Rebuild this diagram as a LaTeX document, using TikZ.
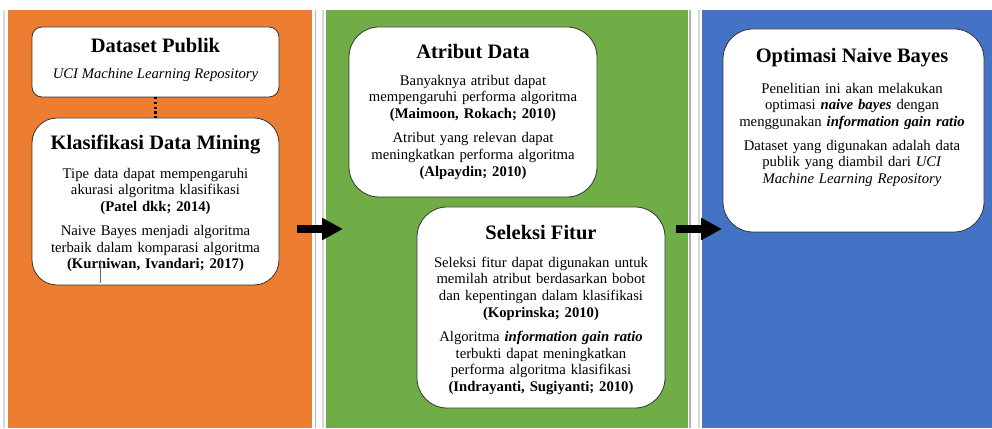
\documentclass[tikz,border=0pt]{standalone}
\usepackage{fontspec}
\setmainfont{Liberation Serif}
\usetikzlibrary{arrows.meta}
\definecolor{porange}{HTML}{ED7D31}
\definecolor{pgreen}{HTML}{70AD47}
\definecolor{pblue}{HTML}{4472C4}
\definecolor{sepdark}{HTML}{BDB3AA}
\definecolor{seplight}{HTML}{D9D9D9}
\begin{document}
\begin{tikzpicture}[x=1pt,y=1pt,
 panel/.style={draw=none,inner sep=0,outer sep=0,anchor=south west},
 box/.style={draw=black!80,line width=0.8pt,fill=white,inner sep=0,outer sep=0},
 ttl/.style={anchor=base,inner sep=0,font=\fontsize{20.5}{24}\selectfont\bfseries},
 body/.style={anchor=north,inner sep=0,text width=260pt,align=center,font=\fontsize{14.7}{16.7}\selectfont},
 sepline/.style={line width=1.3pt},
 bigarrow/.style={line width=8pt,-{Triangle[length=21pt,width=21pt]}},
 dots/.style={line width=2.2pt,dash pattern=on 2.4pt off 2.4pt},
]
\useasboundingbox (0,0) rectangle (992,428);
\fill[white] (0,0) rectangle (992,428);
% panels
\node[panel,fill=porange,minimum width=304pt,minimum height=418pt] (po) at (8,0) {};
\node[panel,fill=pgreen,minimum width=362pt,minimum height=418pt] (pg) at (326,0) {};
\node[panel,fill=pblue,minimum width=290pt,minimum height=418pt] (pb) at (702,0) {};
% separators
\draw[sepline,seplight] (4,0) -- (4,418);
\draw[sepline,sepdark] (315.5,0) -- (315.5,418);
\draw[sepline,seplight] (323,0) -- (323,418);
\draw[sepline,black!30] (690,0) -- (690,418);
\draw[sepline,seplight] (699,0) -- (699,418);
% boxes
\node[box,rounded corners=10pt,minimum width=247pt,minimum height=70pt] (dp) at (155.5,366) {};
\node[box,rounded corners=25pt,minimum width=247pt,minimum height=167pt] (km) at (155.5,226.5) {};
\node[box,rounded corners=30pt,minimum width=248pt,minimum height=170pt] (ad) at (473,316) {};
\node[box,rounded corners=30pt,minimum width=248pt,minimum height=201pt] (sf) at (541,120.5) {};
\node[box,rounded corners=30pt,minimum width=261pt,minimum height=203pt] (on) at (853.5,297.5) {};
% connectors
\draw[dots] (dp.south) -- (km.north);
\coordinate (a1s) at (297,199);
\coordinate (a1e) at (343,199);
\coordinate (a2s) at (676,199);
\coordinate (a2e) at (722,199);
\draw[bigarrow] (a1s) -- (a1e);
\draw[bigarrow] (a2s) -- (a2e);
% text: Dataset Publik
\node[ttl] (dpt) at (155.5,375) {Dataset Publik};
\node[anchor=base,inner sep=0,font=\fontsize{14.7}{16.7}\selectfont\itshape] (dpu) at (155.5,349) {UCI Machine Learning Repository};
% Klasifikasi
\node[ttl] (kmt) at (155.5,278) {Klasifikasi Data Mining};
\node[body] (kmb) at (155.5,261.7) {\strut Tipe data dapat mempengaruhi\\ akurasi algoritma klasifikasi\\ \textbf{(Patel dkk; 2014)}\\[7.2pt]
 Naive Bayes menjadi algoritma\\ terbaik dalam komparasi algoritma\\ \textbf{(Kurniwan, Ivandari; 2017)}};
\draw[line width=0.5pt,black!60] (100,168) -- (100,145);
% Atribut Data
\node[ttl] (adt) at (473,369) {Atribut Data};
\node[body] (adb) at (473,354.7) {\strut Banyaknya atribut dapat\\ mempengaruhi performa algoritma\\ \textbf{(Maimoon, Rokach; 2010)}\\[7.5pt]
 Atribut yang relevan dapat\\ meningkatkan performa algoritma\\ \textbf{(Alpaydin; 2010)}};
% Seleksi Fitur
\node[ttl] (sft) at (541,188) {Seleksi Fitur};
\node[body] (sfb) at (541,172.7) {\strut Seleksi fitur dapat digunakan untuk\\ memilah atribut berdasarkan bobot\\ dan kepentingan dalam klasifikasi\\ \textbf{(Koprinska; 2010)}\\[7.5pt]
 Algoritma \textbf{\textit{information gain ratio}}\\ terbukti dapat meningkatkan\\ performa algoritma klasifikasi\\ \textbf{(Indrayanti, Sugiyanti; 2010)}};
% Optimasi
\node[ttl] (ont) at (852,365) {Optimasi Naive Bayes};
\node[body] (onb) at (852,346.7) {\strut Penelitian ini akan melakukan\\ optimasi \textbf{\textit{naive bayes}} dengan\\ menggunakan \textbf{\textit{information gain ratio}}\\[7pt]
 Dataset yang digunakan adalah data\\ publik yang diambil dari \textit{UCI}\\ \textit{Machine Learning Repository}};
\end{tikzpicture}
\end{document}
